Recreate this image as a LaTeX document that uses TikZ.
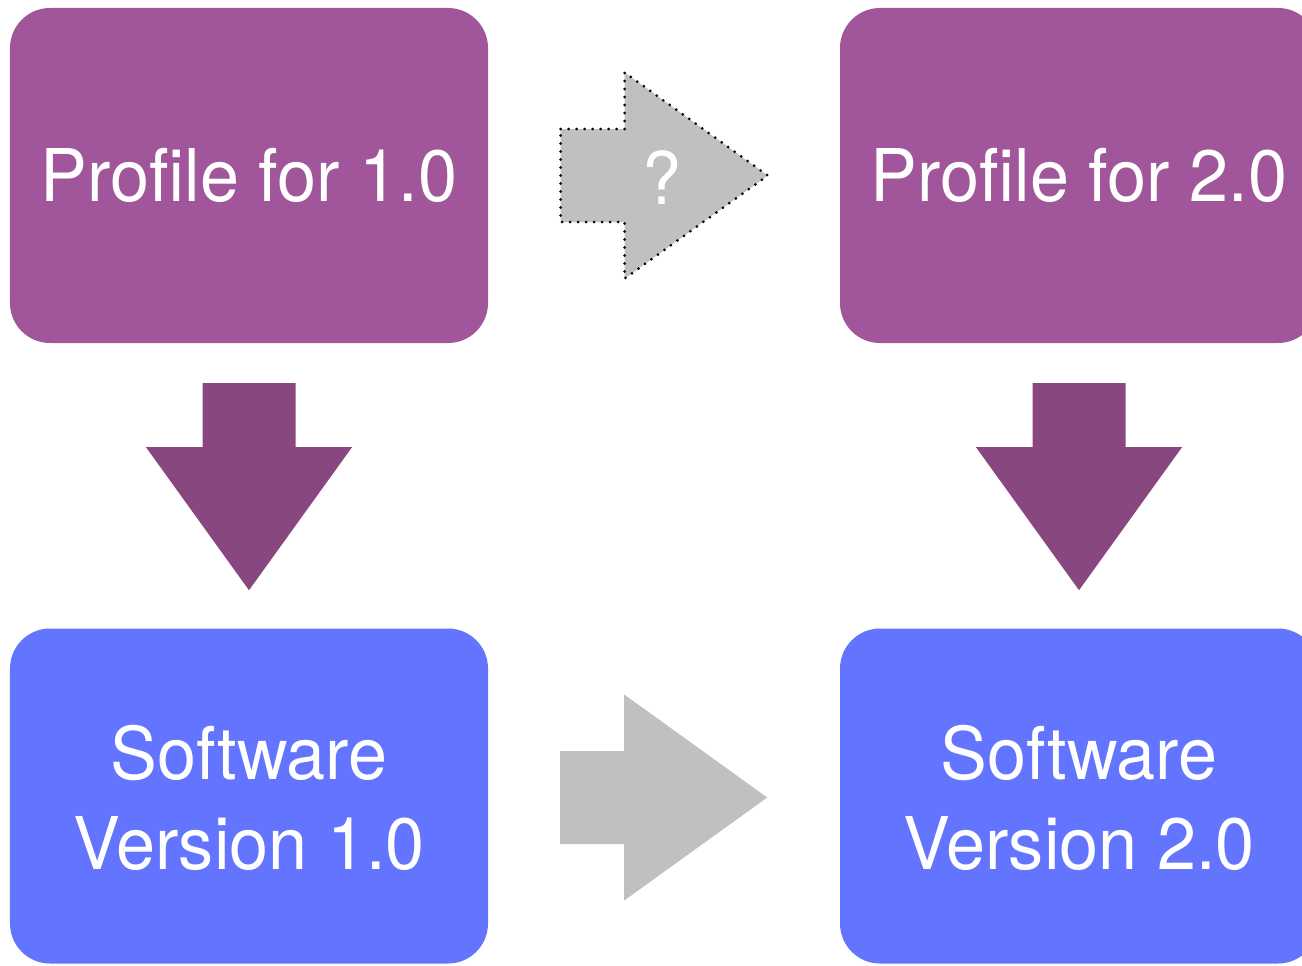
\documentclass[tikz,border=0pt]{standalone}
\usepackage{fontspec}
\setmainfont{TeX Gyre Heros}[FakeStretch=0.965]
\definecolor{profilefill}{HTML}{A1559B}
\definecolor{downfill}{HTML}{88477F}
\definecolor{softfill}{HTML}{6375FF}
\definecolor{stepfill}{HTML}{C0C0C0}
\tikzset{
  box/.style={rounded corners=40bp, minimum width=478bp, minimum height=335bp,
    inner sep=0pt, text=white, align=center,
    font=\fontsize{73}{90}\selectfont},
  profilebox/.style={box, fill=profilefill},
  softbox/.style={box, fill=softfill},
  % block arrow pointing along local +x, origin at the middle of the tail
  fatarrow/.pic={
    \path[pic actions] (0,-46.5) -- (64,-46.5) -- (64,-103) -- (207,0)
      -- (64,103) -- (64,46.5) -- (0,46.5) -- cycle;
  },
  downarrow/.style={fill=downfill},
  grayarrow/.style={fill=stepfill},
  dottededge/.style={draw=black, line width=3bp, line cap=round,
    dash pattern=on 0bp off 8bp},
}
\begin{document}
\begin{tikzpicture}[x=1bp, y=-1bp]
  \useasboundingbox (0,0) rectangle (1302,965);
  \clip (0,0) rectangle (1302,965);

  % the four boxes
  \node[profilebox] (p1) at (249,175.5) {Profile for 1.0};
  \node[profilebox] (p2) at (1079,175.5) {Profile for 2.0};
  \node[softbox] (s1) at (249,796) {\rule{0pt}{58bp}Software\\Version 1.0};
  \node[softbox] (s2) at (1079,796) {\rule{0pt}{58bp}Software\\Version 2.0};

  % anchors for the block arrows
  \path (p1.south) ++(0,40) coordinate (d1);
  \path (p2.south) ++(0,40) coordinate (d2);
  \path (p1.east) ++(72.5,0) coordinate (r1);
  \path (s1.east) ++(72,1.5) coordinate (r2);

  % profile -> software
  \pic[downarrow, rotate=-90] at (d1) {fatarrow};
  \pic[downarrow, rotate=-90] at (d2) {fatarrow};

  % software 1.0 -> software 2.0
  \pic[grayarrow] at (r2) {fatarrow};

  % profile 1.0 -> profile 2.0 (uncertain)
  \pic[grayarrow, dottededge] at (r1) {fatarrow};
  \node[text=white, inner sep=0pt, font=\fontsize{73}{90}\selectfont]
    (q) at ([xshift=101.5bp,yshift=-2bp]r1) {?};
\end{tikzpicture}
\end{document}
